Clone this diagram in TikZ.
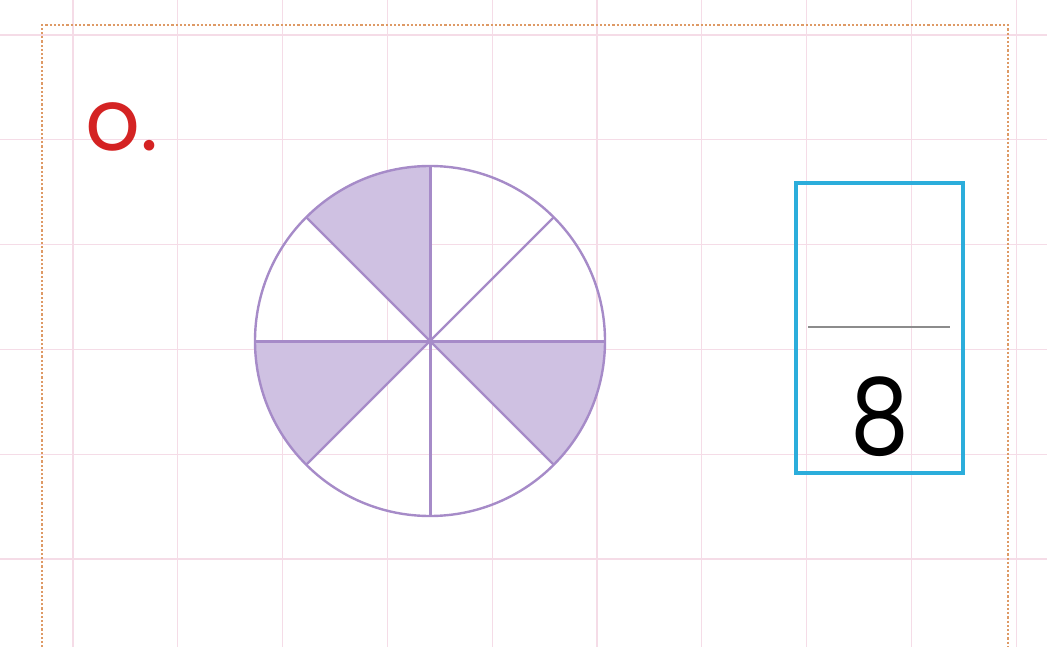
\documentclass[tikz,border=0pt]{standalone}
\usepackage{fontspec}
\setmainfont{Poppins}
\usepackage{tikz}
\usetikzlibrary{positioning}
\definecolor{gridpink}{HTML}{F5DCE7}
\definecolor{borderorange}{HTML}{DE9A66}
\definecolor{pieline}{HTML}{A68BC8}
\definecolor{piefill}{HTML}{CFC1E2}
\definecolor{boxblue}{HTML}{2BADDB}
\definecolor{labelred}{HTML}{D42323}
\definecolor{bargray}{HTML}{8C8C8C}

\begin{document}
\begin{tikzpicture}[x=1pt,y=-1pt,
    gridline/.style={gridpink,line width=1.3pt},
    slice/.style={pieline,line width=2.4pt}]
    \useasboundingbox (0,0) rectangle (1047,647);
    \foreach \i in {0,...,9}
      \draw[gridline] (73+104.8*\i,0) -- (73+104.8*\i,647);
    \foreach \j in {0,...,5}
      \draw[gridline] (0,35+104.8*\j) -- (1047,35+104.8*\j);
    \draw[borderorange,line width=2.2pt,dotted] (42,660) -- (42,25) -- (1008,25) -- (1008,660);
    \node[anchor=base west,text=labelred,font=\fontsize{86}{90}\selectfont] (label) at (82,151) {o.};
    \coordinate (centre) at (430,341);
    \foreach \a in {0,135,225}
      \fill[piefill] (centre) -- ++(\a:175) arc[start angle=\a,end angle=\a+45,radius=175] -- cycle;
    \foreach \a in {45,135,225,315}
      \draw[slice] (centre) -- ++(\a:175);
    \foreach \a in {0,90,180,270}
      \draw[slice,line width=3pt] (centre) -- ++(\a:175);
    \draw[slice] (centre) circle[radius=175];
    \node[draw=boxblue,line width=3.5pt,minimum width=167,minimum height=290] (answer) at (879.5,328) {};
    \draw[bargray,line width=2pt] ([xshift=14pt,yshift=1pt]answer.west) -- ([xshift=-15pt,yshift=1pt]answer.east);
    \node[anchor=base,font=\fontsize{106}{110}\selectfont,xscale=0.88,transform shape] (den) at (880,454) {8};
  \end{tikzpicture}
\end{document}
